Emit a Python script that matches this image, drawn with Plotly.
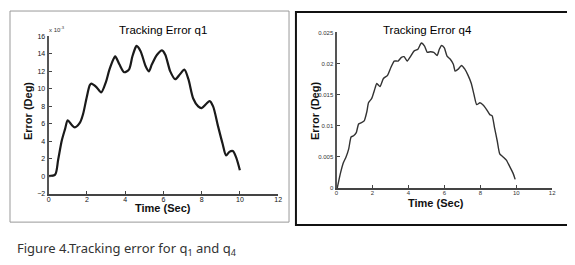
import plotly.graph_objects as go

# q1 tracking error (units of 1e-3 deg)
t1 = [0, 0.34, 0.5, 0.69, 0.86, 1.0, 1.2, 1.37, 1.63, 1.8, 1.98, 2.15, 2.23, 2.5, 2.75, 3.0, 3.18,
      3.44, 3.49, 3.7, 3.95, 4.2, 4.38, 4.56, 4.6, 4.81, 5.07, 5.24, 5.4, 5.67, 5.93, 6.1, 6.36, 6.62,
      6.88, 7.1, 7.31, 7.56, 7.82, 8.0, 8.25, 8.42, 8.6, 8.85, 9.1, 9.28, 9.45, 9.63, 9.8, 10.0]
e1 = [0.04, 0.2, 1.9, 4.1, 5.4, 6.4, 5.9, 5.6, 6.1, 7.1, 8.9, 10.4, 10.6, 10.2, 9.6, 10.8, 12.2,
      13.6, 13.7, 12.8, 11.9, 12.2, 13.7, 14.8, 14.9, 14.3, 12.6, 12.0, 12.8, 13.9, 14.4, 13.9, 12.0, 11.1,
      11.7, 12.2, 11.1, 8.9, 8.0, 7.8, 8.3, 8.6, 8.0, 5.8, 3.7, 2.4, 2.8, 2.9, 2.2, 0.7]

# q4 tracking error (deg)
t4 = [0.04, 0.22, 0.37, 0.53, 0.68, 0.81, 0.95, 1.1, 1.23, 1.38, 1.54, 1.69, 1.78, 1.96, 2.11, 2.24,
      2.42, 2.61, 2.84, 3.03, 3.21, 3.43, 3.61, 3.76, 3.94, 4.13, 4.31, 4.53, 4.72, 4.9, 5.05, 5.23,
      5.41, 5.6, 5.72, 5.85, 6.0, 6.15, 6.33, 6.5, 6.6, 6.77, 6.95, 7.14, 7.32, 7.5, 7.65, 7.8, 7.98,
      8.17, 8.35, 8.53, 8.66, 8.79, 8.94, 9.08, 9.27, 9.45, 9.63, 9.82, 9.94]
e4 = [0.0, 0.0024, 0.0040, 0.0050, 0.0063, 0.0082, 0.0084, 0.0089, 0.0103, 0.0105, 0.0108, 0.0123,
      0.0137, 0.0144, 0.0157, 0.0168, 0.0163, 0.0176, 0.0181, 0.0194, 0.0204, 0.0204, 0.0210, 0.0211,
      0.0204, 0.0212, 0.0220, 0.0223, 0.0233, 0.0228, 0.0218, 0.0219, 0.0218, 0.0213, 0.0223, 0.0229,
      0.0225, 0.0212, 0.0207, 0.0199, 0.0188, 0.0191, 0.0197, 0.0191, 0.0181, 0.0168, 0.0150, 0.0134,
      0.0137, 0.0133, 0.0126, 0.0118, 0.0116, 0.0097, 0.0076, 0.0055, 0.0050, 0.0045, 0.0035, 0.0024,
      0.0014]

xticks = [0, 2, 4, 6, 8, 10, 12]
y1ticks = [-2, 0, 2, 4, 6, 8, 10, 12, 14, 16]
y4ticks = [0, 0.005, 0.01, 0.015, 0.02, 0.025]
y4labels = ["0", "0.005", "0.01", "0.015", "0.02", "0.025"]

# page body has an 8px margin, so the figure starts at (8, 8) in the window
OFF = 8
W, H = 575 - OFF, 265 - OFF
def px(x): return (x - OFF) / W
def py(y): return 1 - (y - OFF) / H

fig = go.Figure()
fig.add_trace(go.Scatter(x=t1, y=e1, mode="lines", line=dict(color="#1a1a1a", width=2.2, shape="spline", smoothing=0.8),
                         xaxis="x", yaxis="y", showlegend=False))
fig.add_trace(go.Scatter(x=t4, y=e4, mode="lines", line=dict(color="#333", width=1.4, shape="spline", smoothing=0.5),
                         xaxis="x2", yaxis="y2", showlegend=False))

FONT = "Liberation Sans, Arial, sans-serif"
tf1 = dict(family=FONT, size=7, color="#111")
tf2 = dict(family=FONT, size=6, color="#333")

def xax(domain, anchor, tf):
    return dict(domain=domain, anchor=anchor, range=[0, 12], tickvals=xticks, ticks="inside", ticklen=3,
                tickcolor="#444", showline=True, linecolor="#444", linewidth=1.5, showgrid=False,
                zeroline=False, tickfont=tf, ticklabelstandoff=-2)

def yax(domain, anchor, tf, **kw):
    return dict(domain=domain, anchor=anchor, ticks="inside", ticklen=3, tickcolor="#444", showline=True,
                linecolor="#555", linewidth=2, showgrid=False, zeroline=False, tickfont=tf,
                ticklabelstandoff=0, **kw)

fig.update_layout(
    width=W, height=H, margin=dict(l=0, r=0, t=0, b=0),
    paper_bgcolor="white", plot_bgcolor="white",
    xaxis=xax([px(47), px(279)], "y", tf1),
    yaxis=yax([py(195), py(33)], "x", tf1, range=[-2, 16], tickvals=y1ticks),
    xaxis2=xax([px(338), px(556)], "y2", tf2),
    yaxis2=yax([py(189), py(29)], "x2", tf2, range=[0, 0.025], tickvals=y4ticks, ticktext=y4labels),
)

lab = dict(family=FONT, size=11.5, color="#000")
blab = dict(family=FONT, size=11, color="#111")
ann = [
    dict(x=px(163), y=py(26), text="Tracking Error q1", font=lab),
    dict(x=px(430), y=py(27), text="Tracking Error q4", font=lab),
    dict(x=px(163), y=py(210), text="<b>Time (Sec)</b>", font=blab),
    dict(x=px(439), y=py(204), text="<b>Time (Sec)</b>", font=blab),
    dict(x=px(26), y=py(110), text="<b>Error (Deg)</b>", font=blab, textangle=-90),
    dict(x=px(316), y=py(110), text="<b>Error (Deg)</b>", font=blab, textangle=-90),
    dict(x=px(56), y=py(25), text="x 10<sup>-3</sup>", font=dict(family=FONT, size=6, color="#333")),
    dict(x=px(13), y=py(252), text="Figure 4.Tracking error for q<sub>1</sub> and q<sub>4</sub>",
         font=dict(family="Noto Sans, DejaVu Sans", size=13, color="#333"), xanchor="left"),
]
for a in ann:
    a.setdefault("xanchor", "center")
    fig.add_annotation(xref="paper", yref="paper", showarrow=False, yanchor="middle", **a)

fig.add_shape(type="rect", xref="paper", yref="paper", x0=px(8), x1=px(290), y0=py(224), y1=py(7),
              line=dict(color="#999", width=1))
fig.add_shape(type="rect", xref="paper", yref="paper", x0=px(297), x1=px(573), y0=py(227), y1=py(8),
              line=dict(color="#111", width=2))

fig.write_html("out.html")
